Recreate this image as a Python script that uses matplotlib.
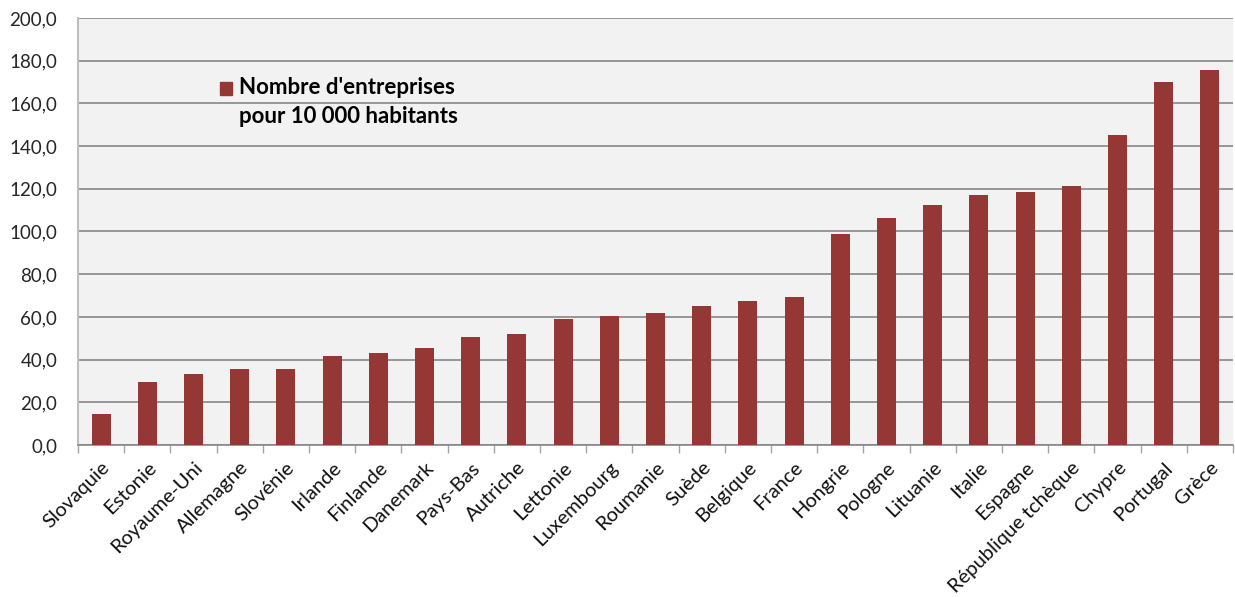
import matplotlib
matplotlib.use("Agg")
import matplotlib.pyplot as plt
from matplotlib.patches import Rectangle
from matplotlib.ticker import FuncFormatter, MultipleLocator
import numpy as np

# Nombre d'entreprises pour 10 000 habitants, par pays
pays = ["Slovaquie", "Estonie", "Royaume-Uni", "Allemagne", "Slovénie", "Irlande",
        "Finlande", "Danemark", "Pays-Bas", "Autriche", "Lettonie", "Luxembourg",
        "Roumanie", "Suède", "Belgique", "France", "Hongrie", "Pologne", "Lituanie",
        "Italie", "Espagne", "République tchèque", "Chypre", "Portugal", "Grèce"]
valeurs = [14.5, 29.5, 33.3, 35.6, 35.6, 41.7, 43.1, 45.5, 50.6, 52.0, 59.1, 60.5,
           61.9, 65.2, 67.5, 69.4, 98.9, 106.4, 112.5, 117.2, 118.6, 121.4,
           145.3, 170.2, 175.8]
legende = ["Nombre d'entreprises", "pour 10 000 habitants"]

rouge = "#953735"
grille = "#878787"

plt.rcParams["font.family"] = ["Lato", "DejaVu Sans"]

fig = plt.figure(figsize=(12.35, 5.97), dpi=100)
ax = fig.add_axes([78 / 1235, 1 - 445 / 597, 1155 / 1235, 427 / 597])
ax.set_facecolor("#F2F2F2")

x = np.arange(len(pays))
ax.bar(x, valeurs, width=0.41, color=rouge, zorder=3)

ax.set_xlim(-0.5, len(pays) - 0.5)
ax.set_ylim(0, 200)
ax.yaxis.set_major_locator(MultipleLocator(20))
ax.yaxis.set_major_formatter(FuncFormatter(lambda v, p: f"{v:.1f}".replace(".", ",")))
ax.grid(axis="y", color=grille, linewidth=1.2, zorder=1)
ax.tick_params(axis="y", length=0, pad=15, labelsize=13.5, labelcolor="#262626")

# ticks between categories, labels under each bar
ax.set_xticks(x)
ax.set_xticklabels(pays, rotation=45, ha="right", va="top",
                   rotation_mode="anchor", fontsize=14.5, color="#111111")
ax.tick_params(axis="x", which="major", length=0, pad=10)
ax.set_xticks(np.arange(len(pays) + 1) - 0.5, minor=True)
ax.tick_params(axis="x", which="minor", length=6, color="#A6A6A6", width=1)

for side in ["top", "right"]:
    ax.spines[side].set_visible(False)
ax.spines["left"].set_color("#BFBFBF")
ax.spines["left"].set_linewidth(1.5)
ax.spines["bottom"].set_color(grille)
ax.spines["bottom"].set_linewidth(1.2)

# legend box, drawn by hand
ax.add_patch(Rectangle((0.1229, 0.8197), 0.0104, 0.0304, transform=ax.transAxes,
                       color=rouge, zorder=4))
ax.text(0.1394, 0.822, legende[0], transform=ax.transAxes, fontsize=16,
        fontweight="bold", va="baseline", ha="left", zorder=4)
ax.text(0.1394, 0.754, legende[1], transform=ax.transAxes, fontsize=16,
        fontweight="bold", va="baseline", ha="left", zorder=4)

fig.savefig("out.png", dpi=100, facecolor="white")
